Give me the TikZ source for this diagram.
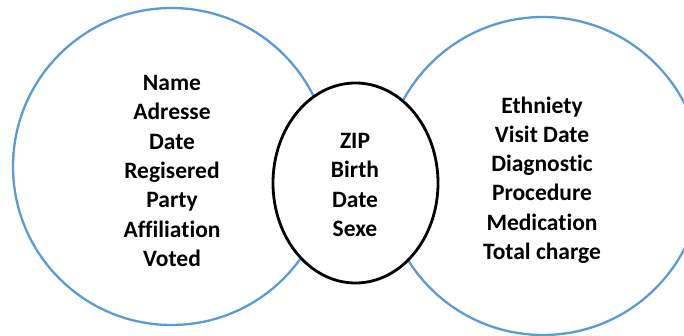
\documentclass[tikz,border=0pt]{standalone}
\usepackage{fontspec}
\setmainfont[Ligatures=NoCommon]{Carlito}
\usetikzlibrary{shapes.geometric}
\definecolor{setblue}{HTML}{5B9BD5}
\tikzset{
  settext/.style={align=center, inner sep=0pt, text=black,
    font=\bfseries\fontsize{23.5}{29.3}\selectfont},
  bigset/.style={circle, draw=setblue, line width=2.3pt},
  sharedset/.style={ellipse, draw=black, fill=white, line width=2.8pt}
}
\begin{document}
\begin{tikzpicture}[x=1pt, y=-1pt]
  \useasboundingbox (0,0) rectangle (684,336);
  \clip (0,0) rectangle (684,336);
  \fill[white] (0,0) rectangle (684,336);
  % the two record sets and their overlap
  \node[bigset, minimum size=317pt] (voters) at (171.5,166.5) {};
  \node[bigset, minimum size=318pt] (medical) at (543,176) {};
  \node[sharedset, minimum width=165pt, minimum height=200pt] (shared) at (355.5,183) {};
  % attribute lists
  \node[settext] (votertext) at (172,171)
    {Name\\Adresse\\Date\\Regisered\\Party\\Affiliation\\Voted};
  \node[settext] (medtext) at (542,180)
    {Ethniety\\Visit Date\\Diagnostic\\Procedure\\Medication\\Total charge};
  \node[settext] (sharedtext) at (355,185)
    {ZIP\\Birth\\Date\\Sexe};
\end{tikzpicture}
\end{document}
